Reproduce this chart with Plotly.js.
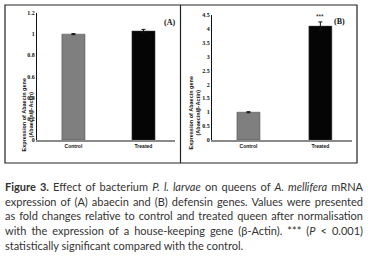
<!DOCTYPE html>
<html><head><meta charset="utf-8">
<script src="https://cdn.plot.ly/plotly-3.0.1.min.js"></script>
<style>
html,body{margin:0;padding:0;background:#fff;}
#wrap{position:relative;width:368px;height:264px;overflow:hidden;}
#plot{position:absolute;left:0;top:0;width:368px;height:264px;}
#cap{position:absolute;left:5px;top:180px;width:358px;font-family:"Lato","Open Sans",sans-serif;font-size:11px;line-height:14.7px;color:#333;}
#cap div{text-align:justify;text-align-last:justify;white-space:nowrap;}
#cap div.last{text-align-last:left;}
</style></head>
<body><div id="wrap"><div id="plot"></div>
<div id="cap">
<div><b>Figure 3.</b> Effect of bacterium <i>P. l. larvae</i> on queens of <i>A. mellifera</i> mRNA</div>
<div>expression of (A) abaecin and (B) defensin genes. Values were presented</div>
<div>as fold changes relative to control and treated queen after normalisation</div>
<div>with the expression of a house-keeping gene (β-Actin). *** (<i>P</i> &lt; 0.001)</div>
<div class="last">statistically significant compared with the control.</div>
</div></div>
<script>
const categories = ["Control", "Treated"];
const abaecinValues = [1.0, 1.03];
const abaecinErrors = [0.005, 0.015];
const defensinValues = [1.0, 4.1];
const defensinErrors = [0.02, 0.15];
const barColors = ["#7f7f7f", "#050505"];
const yTitle = "<b>Expression of Abaecin gene<br>(Abaecin/β-Actin)</b>";
const panelLabels = ["<b>(A)</b>", "<b>(B)</b>"];
const sigMark = "***";

const W = 368, H = 264;
const px = v => v / W, py = v => (H - v) / H;

const tickFont = {family: "Liberation Serif, serif", size: 6, color: "#111", weight: "bold"};
const catFont = {family: "Liberation Sans, Arial, sans-serif", size: 5, color: "#111", weight: "bold"};

const traces = [
  {type: "bar", x: categories, y: abaecinValues, xaxis: "x", yaxis: "y", width: 0.33,
   marker: {color: barColors, line: {color: "#444", width: 0.5}},
   error_y: {type: "data", array: abaecinErrors, visible: true, color: "#111", thickness: 1, width: 2}},
  {type: "bar", x: categories, y: defensinValues, xaxis: "x2", yaxis: "y2", width: 0.32,
   marker: {color: barColors, line: {color: "#444", width: 0.5}},
   error_y: {type: "data", array: defensinErrors, visible: true, color: "#111", thickness: 1, width: 2}}
];

const yAxisCommon = {showgrid: false, zeroline: false, showline: true, linecolor: "#111", linewidth: 1,
  ticks: "", tickfont: tickFont, fixedrange: true};
const xAxisCommon = {showgrid: false, zeroline: false, showline: true, linecolor: "#8a8a8a", linewidth: 1.5,
  ticks: "", tickfont: catFont, type: "category", fixedrange: true};

const layout = {
  width: W, height: H, margin: {l: 0, r: 0, t: 0, b: 0}, showlegend: false,
  paper_bgcolor: "rgba(0,0,0,0)", plot_bgcolor: "rgba(0,0,0,0)",
  xaxis: Object.assign({}, xAxisCommon, {domain: [px(37), px(175)], range: [-0.52, 1.45], anchor: "y"}),
  yaxis: Object.assign({}, yAxisCommon, {domain: [py(140), py(13)], range: [0, 1.2], anchor: "x",
    tickvals: [0, 0.2, 0.4, 0.6, 0.8, 1, 1.2], ticktext: ["0", "0.2", "0.4", "0.6", "0.8", "1", "1.2"]}),
  xaxis2: Object.assign({}, xAxisCommon, {domain: [px(212), px(352)], range: [-0.507, 1.44], anchor: "y2"}),
  yaxis2: Object.assign({}, yAxisCommon, {domain: [py(140), py(15)], range: [0, 4.5], anchor: "x2",
    tickvals: [0, 0.5, 1, 1.5, 2, 2.5, 3, 3.5, 4, 4.5], ticktext: ["0", "0.5", "1", "1.5", "2", "2.5", "3", "3.5", "4", "4.5"]}),
  shapes: [
    {type: "rect", xref: "paper", yref: "paper", x0: px(5), x1: px(357), y0: py(163), y1: py(5),
     line: {color: "#222", width: 1.2}},
    {type: "line", xref: "paper", yref: "paper", x0: px(180.5), x1: px(180.5), y0: py(163), y1: py(5),
     line: {color: "#222", width: 1.2}}
  ],
  annotations: [
    {xref: "paper", yref: "paper", x: px(18.5), y: py(77), text: yTitle, textangle: -90, showarrow: false,
     font: {family: "Liberation Sans, Arial, sans-serif", size: 5.5, color: "#111"}},
    {xref: "paper", yref: "paper", x: px(194), y: py(75), text: yTitle, textangle: -90, showarrow: false,
     font: {family: "Liberation Sans, Arial, sans-serif", size: 5.5, color: "#111"}},
    {xref: "paper", yref: "paper", x: px(169), y: py(16), text: panelLabels[0], showarrow: false,
     font: {family: "Liberation Serif, serif", size: 8, color: "#111"}},
    {xref: "paper", yref: "paper", x: px(347), y: py(15), text: panelLabels[1], showarrow: false,
     font: {family: "Liberation Serif, serif", size: 8, color: "#111"}},
    {xref: "x2", yref: "y2", x: categories[1], y: defensinValues[1] + defensinErrors[1], yanchor: "bottom",
     yshift: 0, text: sigMark, showarrow: false,
     font: {family: "Liberation Sans, Arial, sans-serif", size: 6.5, color: "#111"}}
  ]
};
Plotly.newPlot("plot", traces, layout, {displayModeBar: false, staticPlot: true});
</script></body></html>
